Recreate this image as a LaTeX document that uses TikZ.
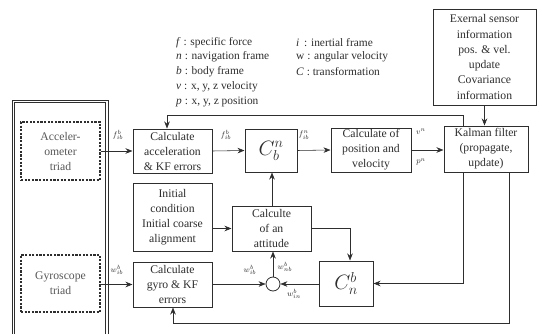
\documentclass[tikz,border=0pt]{standalone}
\usepackage{fontspec}
\setmainfont{Liberation Serif}
\usetikzlibrary{arrows.meta}
\definecolor{ink}{gray}{0.18}
\begin{document}
\begin{tikzpicture}[x=1pt,y=-1pt,
  box/.style={draw=ink, line width=1pt, align=center, inner sep=0.5pt, text=ink,
    font=\fontsize{11.7}{15}\selectfont},
  sensbox/.style={draw=ink, line width=1.1pt, dash pattern=on 2.2pt off 1.4pt, align=center,
    inner sep=1pt, text=ink!80, font=\fontsize{11.7}{15}\selectfont},
  bigc/.style={box, font=\fontsize{21}{24}\selectfont},
  conn/.style={draw=ink, line width=0.55pt, -{Stealth[length=7pt,width=5.5pt]}},
  frame/.style={draw=ink, line width=0.9pt},
  lbl/.style={text=ink, font=\fontsize{8}{9}\selectfont, inner sep=0pt},
  leg/.style={text=ink, anchor=west, inner sep=0pt, font=\fontsize{11.4}{12}\selectfont}]
\useasboundingbox (0,0) rectangle (542,333);
\fill[white] (0,0) rectangle (542,333);

% legend
\node[leg] (l1) at (176,43) {\textit{f} : specific force};
\node[leg] (l2) at (176,57) {\textit{n} : navigation frame};
\node[leg] (l3) at (176,72) {\textit{b} : body frame};
\node[leg] (l4) at (176,87) {\textit{v} : x, y, z velocity};
\node[leg] (l5) at (176,102) {\textit{p} : x, y, z position};
\node[leg] (l6) at (296,43) {\textit{i} \,: inertial frame};
\node[leg] (l7) at (296,57) {w : angular velocity};
\node[leg] (l8) at (296,72) {\textit{C} : transformation};

% outer IMU box (double line)
\draw[frame] (12,345) -- (12,100) -- (108,100) -- (108,345);
\draw[frame] (14.6,345) -- (14.6,102.6) -- (105.4,102.6) -- (105.4,345);

% sensors
\node[sensbox, minimum width=79pt, minimum height=58pt] (accs) at (60.5,151) {Acceler-\\ometer\\triad};
\node[sensbox, minimum width=79pt, minimum height=57pt] (gyrs) at (60.5,283.5) {Gyroscope\\triad};

% blocks
\node[box, minimum width=79pt, minimum height=44pt] (acc) at (172.5,151) {Calculate\\acceleration\\\& KF errors};
\node[box, minimum width=79pt, minimum height=68pt] (init) at (172.5,217) {Initial\\condition\\Initial coarse\\alignment};
\node[box, minimum width=79pt, minimum height=45pt] (gyro) at (172.5,284.5) {Calculate\\gyro \& KF\\errors};
\node[bigc, minimum width=52pt, minimum height=43pt] (cbn) at (271,150.5) {$C_b^n$};
\node[box, minimum width=79pt, minimum height=45pt] (att) at (271.5,228.5) {Calculte\\of an\\attitude};
\node[draw=ink, line width=0.8pt, circle, minimum size=14pt, inner sep=0pt] (sum) at (273,284) {};
\node[bigc, minimum width=54pt, minimum height=45pt] (cnb) at (346,283.5) {$C_n^b$};
\node[box, minimum width=80pt, minimum height=44pt] (pv) at (371,150) {Calculate of\\position and\\velocity};
\node[box, minimum width=84pt, minimum height=46pt] (kf) at (486,149) {Kalman filter\\(propagate,\\update)};
\node[box, minimum width=103pt, minimum height=96pt, font=\fontsize{11.7}{15.3}\selectfont] (ext) at (484.5,57) {Exernal sensor\\information\\pos. \& vel.\\update\\Covariance\\information};

% coordinates
\coordinate (t1) at (463,115);
\coordinate (t2) at (167,115);
\coordinate (b1) at (463,283.5);
\coordinate (g1) at (509,323);
\coordinate (g2) at (173,323);
\coordinate (a1) at (350,228.5);

% connectors
\draw[conn] (accs.east) -- (acc.west);
\draw[conn] (acc.east) -- (cbn.west);
\draw[conn] (cbn.east) -- (pv.west);
\draw[conn] (pv.east) -- (kf.west |- pv.east);
\draw[conn] (ext.south) -- (kf.north -| ext.south);
\draw[conn] (kf.north -| t1) -- (t1) -- (t2) -- (acc.north -| t2);
\draw[conn] (kf.south -| b1) -- (b1) -- (cnb.east);
\draw[conn] (kf.south -| g1) -- (g1) -- (g2) -- (gyro.south -| g2);
\draw[conn] (gyrs.east |- gyro.west) -- (gyro.west);
\draw[conn] (init.east |- att.west) -- (att.west);
\draw[conn] (att.east) -- (a1) -- (cnb.north -| a1);
\draw[conn] (att.north -| 272,0) -- (cbn.south -| 272,0);
\draw[conn] (gyro.east |- sum.west) -- (sum.west);
\draw[conn] (cnb.west |- sum.east) -- (sum.east);
\draw[conn] (sum.north) -- (att.south -| sum.north);

% labels
\node[lbl] (f1) at (118,135) {$f^b_{ib}$};
\node[lbl] (f2) at (226,135) {$f^b_{ib}$};
\node[lbl] (f3) at (304,135) {$f^n_{ib}$};
\node[lbl] (vn) at (421,132) {$v^n$};
\node[lbl] (pn) at (421,162) {$p^n$};
\node[lbl] (w1) at (117,270) {$w^b_{ib}$};
\node[lbl] (w2) at (250,270) {$w^b_{ib}$};
\node[lbl] (w3) at (285,267) {$w^b_{nb}$};
\node[lbl] (w4) at (294,294) {$w^b_{in}$};
\end{tikzpicture}
\end{document}
